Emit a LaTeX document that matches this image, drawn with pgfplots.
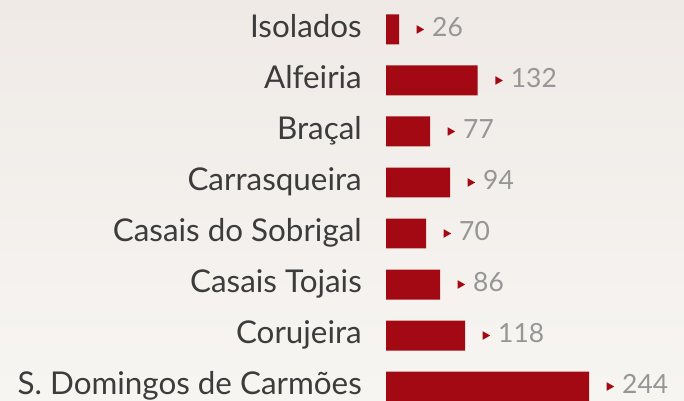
\documentclass[border=0pt]{standalone}
\usepackage{pgfplots}
\pgfplotsset{compat=1.18}
\usepackage{pgfplotstable}
\usepackage{fontspec}
\setmainfont{Lato}
\definecolor{barred}{RGB}{163,9,18}
\definecolor{labgray}{RGB}{60,60,60}
\definecolor{valgray}{RGB}{150,150,150}
\definecolor{bgtop}{RGB}{239,234,230}
\definecolor{bgbot}{RGB}{247,245,242}
\newcommand\tri{\tikz[baseline=0bp]{\fill[barred] (0bp,2.75bp) -- (7.5bp,7bp) -- (0bp,11.25bp) -- cycle;}}
\pgfplotstableread{
idx len val
0 13 26
1 91.7 132
2 44 77
3 64 94
4 40 70
5 54 86
6 79 118
7 203 244
}\data
\begin{document}
\begin{tikzpicture}
\shade[top color=bgtop, bottom color=bgbot] (0,0) rectangle (684bp,401bp);
\begin{axis}[
  at={(386bp,0bp)}, anchor=south west,
  scale only axis, width=298bp, height=401bp,
  xmin=0, xmax=298, ymin=-0.578, ymax=7.284, y dir=reverse,
  xbar, bar width=0.588,
  axis line style={draw=none}, tick style={draw=none}, major tick length=0pt,
  xtick=\empty, ytick={0,...,7},
  yticklabels={Isolados,Alfeiria,Braçal,Carrasqueira,Casais do Sobrigal,Casais Tojais,Corujeira,S. Domingos de Carmões},
  yticklabel style={anchor=base east, inner sep=0pt, xshift=-24bp, yshift=-8.3bp,
    font=\fontsize{31.5}{36}\selectfont, text=labgray},
  clip=false,
  point meta=explicit symbolic,
  nodes near coords={\tri\hspace{8bp}\textcolor{valgray}{\pgfplotspointmeta}},
  nodes near coords style={anchor=base west, inner sep=0pt, xshift=17.5bp, yshift=-7bp,
    font=\fontsize{26.5}{30}\selectfont},
]
\addplot[fill=barred, draw=none] table[x=len, y=idx, meta=val] {\data};
\end{axis}
\pgfresetboundingbox
\useasboundingbox (0,0) rectangle (684bp,401bp);
\end{tikzpicture}
\end{document}
